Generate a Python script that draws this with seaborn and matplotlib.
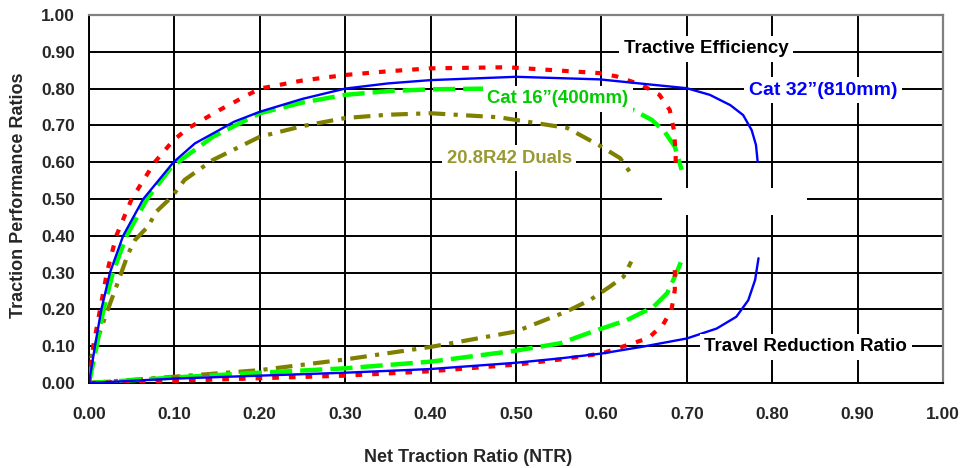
import matplotlib
matplotlib.use("Agg")
import matplotlib.pyplot as plt
import seaborn as sns
from matplotlib.patches import Rectangle

# Cat 32" (810mm) - blue solid
cat32_te_x = [0, 0.007, 0.0145, 0.0246, 0.040, 0.0636, 0.099, 0.124, 0.146, 0.17, 0.20, 0.25, 0.30, 0.35, 0.40,
              0.50, 0.598, 0.70, 0.727, 0.751, 0.766, 0.776, 0.781, 0.783]
cat32_te_y = [0, 0.10, 0.20, 0.30, 0.40, 0.50, 0.60, 0.651, 0.679, 0.71, 0.737, 0.772, 0.80, 0.814, 0.823,
              0.832, 0.825, 0.801, 0.783, 0.755, 0.728, 0.687, 0.647, 0.601]
cat32_trr_x = [0, 0.10, 0.20, 0.30, 0.40, 0.50, 0.552, 0.60, 0.649, 0.70, 0.735, 0.758, 0.772, 0.780, 0.784]
cat32_trr_y = [0, 0.012, 0.02, 0.028, 0.038, 0.055, 0.067, 0.080, 0.099, 0.121, 0.148, 0.18, 0.225, 0.28, 0.339]

# red dotted series
red_te_x = [0, 0.005, 0.013, 0.021, 0.032, 0.05, 0.077, 0.099, 0.116, 0.153, 0.20, 0.25, 0.30, 0.35, 0.40,
            0.49, 0.598, 0.618, 0.647, 0.668, 0.680, 0.685, 0.687, 0.687]
red_te_y = [0, 0.10, 0.20, 0.30, 0.40, 0.50, 0.60, 0.66, 0.692, 0.742, 0.80, 0.822, 0.837, 0.847, 0.855,
            0.858, 0.842, 0.833, 0.81, 0.783, 0.742, 0.687, 0.625, 0.587]
red_trr_x = [0, 0.10, 0.20, 0.30, 0.40, 0.50, 0.552, 0.60, 0.625, 0.655, 0.672, 0.682, 0.686, 0.686]
red_trr_y = [0, 0.006, 0.013, 0.02, 0.032, 0.05, 0.064, 0.08, 0.099, 0.122, 0.158, 0.198, 0.253, 0.33]

# Cat 16" (400mm) - green dashed
cat16_te_x = [0, 0.009, 0.017, 0.028, 0.044, 0.068, 0.097, 0.145, 0.20, 0.25, 0.30, 0.35, 0.40, 0.467, 0.55,
              0.637, 0.659, 0.674, 0.686, 0.694]
cat16_te_y = [0, 0.10, 0.20, 0.30, 0.40, 0.50, 0.588, 0.669, 0.733, 0.762, 0.783, 0.793, 0.798, 0.80, 0.79,
              0.742, 0.715, 0.683, 0.642, 0.579]
cat16_trr_x = [0, 0.107, 0.20, 0.30, 0.40, 0.50, 0.552, 0.59, 0.63, 0.661, 0.677, 0.686, 0.695]
cat16_trr_y = [0, 0.016, 0.028, 0.04, 0.058, 0.088, 0.108, 0.14, 0.171, 0.207, 0.244, 0.289, 0.339]

# 20.8R42 Duals - olive dash-dot
duals_te_x = [0, 0.003, 0.019, 0.032, 0.046, 0.054, 0.069, 0.079, 0.097, 0.112, 0.145, 0.20, 0.25, 0.30,
              0.35, 0.40, 0.48, 0.56, 0.598, 0.622, 0.637]
duals_te_y = [0, 0.072, 0.18, 0.262, 0.352, 0.389, 0.425, 0.466, 0.506, 0.552, 0.606, 0.669, 0.698, 0.72,
              0.729, 0.733, 0.722, 0.693, 0.645, 0.611, 0.561]
duals_trr_x = [0, 0.105, 0.20, 0.30, 0.40, 0.50, 0.559, 0.587, 0.61, 0.626, 0.635]
duals_trr_y = [0, 0.018, 0.035, 0.064, 0.098, 0.14, 0.194, 0.226, 0.262, 0.289, 0.33]

ticks = [i / 10 for i in range(11)]

sns.set_style("white")
plt.rcParams["font.family"] = ["Liberation Sans", "DejaVu Sans"]
plt.rcParams["font.weight"] = "bold"

fig = plt.figure(figsize=(9.64, 4.68), dpi=100)
ax = fig.add_axes([0.0923, 0.1816, 0.8859, 0.7864])

series = [
    (duals_te_x, duals_te_y, duals_trr_x, duals_trr_y, "#808000", 3.0, (0, (4, 2, 1, 2))),
    (cat16_te_x, cat16_te_y, cat16_trr_x, cat16_trr_y, "#00ff00", 3.2, (0, (5, 1.8))),
    (red_te_x, red_te_y, red_trr_x, red_trr_y, "#ff0000", 3.0, (0, (1.6, 2.4))),
    (cat32_te_x, cat32_te_y, cat32_trr_x, cat32_trr_y, "#0000ff", 1.7, "-"),
]
for tx, ty, rx, ry, col, lw, ls in series:
    sns.lineplot(x=tx, y=ty, ax=ax, color=col, lw=lw, linestyle=ls, sort=False, estimator=None, zorder=3)
    sns.lineplot(x=rx, y=ry, ax=ax, color=col, lw=lw, linestyle=ls, sort=False, estimator=None, zorder=3)

ax.set_xlim(0, 1)
ax.set_ylim(0, 1)
ax.set_xticks(ticks)
ax.set_yticks(ticks)
ax.set_xticklabels([f"{t:.2f}" for t in ticks], fontsize=12.5, fontweight="bold")
ax.set_yticklabels([f"{t:.2f}" for t in ticks], fontsize=12.5, fontweight="bold")
ax.tick_params(direction="out", length=4, width=1.4, color="black", pad=6)
ax.tick_params(axis="x", pad=13)
ax.grid(True, color="black", lw=1.4, zorder=1)
ax.set_axisbelow(True)

for side in ["left", "bottom"]:
    ax.spines[side].set_color("black")
    ax.spines[side].set_linewidth(1.4)
for side in ["top", "right"]:
    ax.spines[side].set_color("#808080")
    ax.spines[side].set_linewidth(1.6)

ax.set_xlabel("Net Traction Ratio (NTR)", fontsize=13, fontweight="bold")
ax.set_ylabel("Traction Performance Ratios", fontsize=13, fontweight="bold")
ax.xaxis.set_label_coords(0.444, -0.178)
ax.yaxis.set_label_coords(-0.072, 0.51)

# blank white box in the middle of the plot
ax.add_patch(Rectangle((0.671, 0.457), 0.17, 0.073, facecolor="white", edgecolor="none", zorder=2))

box = dict(boxstyle="square,pad=0.25", facecolor="white", edgecolor="none")
ax.text(0.7225, 0.908, "Tractive Efficiency", fontsize=13.5, fontweight="bold", color="black",
        ha="center", va="center", bbox=box, zorder=4)
ax.text(0.8595, 0.796, "Cat 32\u201d(810mm)", fontsize=14, fontweight="bold", color="#0000ff",
        ha="center", va="center", bbox=box, zorder=4)
ax.text(0.549, 0.772, "Cat 16\u201d(400mm)", fontsize=13.4, fontweight="bold", color="#00cc00",
        ha="center", va="center", bbox=box, zorder=4)
ax.text(0.492, 0.611, "20.8R42 Duals", fontsize=13.3, fontweight="bold", color="#999933",
        ha="center", va="center", bbox=box, zorder=4)
ax.text(0.8395, 0.098, "Travel Reduction Ratio", fontsize=13.5, fontweight="bold", color="black",
        ha="center", va="center", bbox=box, zorder=4)

fig.savefig("out.png", dpi=100)
